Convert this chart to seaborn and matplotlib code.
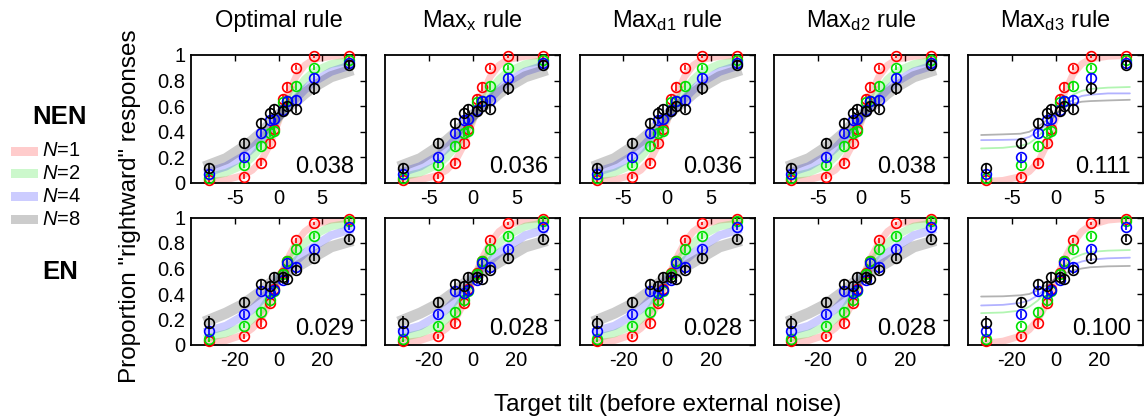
import numpy as np
import pandas as pd
import matplotlib
matplotlib.use('Agg')
import matplotlib.pyplot as plt
import seaborn as sns
from matplotlib.patches import Rectangle

# ---------------- data ----------------
rules = ['Optimal rule', 'Max$_\\mathrm{x}$ rule', 'Max$_\\mathrm{d1}$ rule',
         'Max$_\\mathrm{d2}$ rule', 'Max$_\\mathrm{d3}$ rule']
set_sizes = [1, 2, 4, 8]
conditions = ['NEN', 'EN']
fit_err_nen = ['0.038', '0.036', '0.036', '0.038', '0.111']
fit_err_en = ['0.029', '0.028', '0.028', '0.028', '0.100']

tilt_nen = [-8, -4, -2, -1, -0.5, 0.5, 1, 2, 4, 8]
tilt_en = [-32, -16, -8, -4, -2, 2, 4, 8, 16, 32]

# observed proportion rightward (NEN)
nen_n1 = [0.02, 0.05, 0.16, 0.31, 0.42, 0.66, 0.75, 0.90, 0.99, 0.99]
nen_n2 = [0.04, 0.14, 0.29, 0.39, 0.41, 0.63, 0.64, 0.76, 0.90, 0.96]
nen_n4 = [0.07, 0.20, 0.39, 0.49, 0.50, 0.57, 0.64, 0.65, 0.82, 0.94]
nen_n8 = [0.12, 0.31, 0.47, 0.55, 0.58, 0.56, 0.60, 0.58, 0.74, 0.92]
nen_e1 = [0.01, 0.02, 0.03, 0.03, 0.03, 0.03, 0.03, 0.02, 0.01, 0.01]
nen_e2 = [0.02, 0.02, 0.03, 0.03, 0.03, 0.03, 0.03, 0.03, 0.02, 0.02]
nen_e4 = [0.02, 0.03, 0.03, 0.03, 0.03, 0.03, 0.03, 0.03, 0.03, 0.02]
nen_e8 = [0.04, 0.04, 0.04, 0.04, 0.03, 0.03, 0.03, 0.03, 0.05, 0.03]

# observed proportion rightward (EN)
en_n1 = [0.03, 0.07, 0.175, 0.33, 0.44, 0.565, 0.66, 0.82, 0.955, 0.985]
en_n2 = [0.045, 0.15, 0.26, 0.35, 0.42, 0.56, 0.66, 0.75, 0.855, 0.975]
en_n4 = [0.11, 0.24, 0.42, 0.405, 0.43, 0.51, 0.64, 0.61, 0.75, 0.925]
en_n8 = [0.175, 0.335, 0.48, 0.46, 0.535, 0.535, 0.52, 0.59, 0.685, 0.835]
en_e1 = [0.01, 0.02, 0.03, 0.03, 0.03, 0.03, 0.03, 0.02, 0.01, 0.01]
en_e2 = [0.02, 0.02, 0.03, 0.03, 0.03, 0.03, 0.03, 0.03, 0.02, 0.02]
en_e4 = [0.03, 0.03, 0.03, 0.03, 0.03, 0.03, 0.03, 0.03, 0.03, 0.02]
en_e8 = [0.05, 0.04, 0.03, 0.04, 0.03, 0.03, 0.03, 0.03, 0.03, 0.03]

# model fit curves
curve_x_nen = [-8.5, -6, -4, -3, -2, -1, 0, 1, 2, 3, 4, 6, 8.5]
nen_fit_n1 = [0.01, 0.025, 0.06, 0.10, 0.17, 0.30, 0.48, 0.68, 0.83, 0.92, 0.965, 0.99, 0.997]
nen_fit_n2 = [0.04, 0.08, 0.14, 0.20, 0.28, 0.38, 0.50, 0.62, 0.72, 0.81, 0.87, 0.93, 0.96]
nen_fit_n4 = [0.075, 0.13, 0.21, 0.27, 0.34, 0.42, 0.51, 0.59, 0.66, 0.73, 0.79, 0.87, 0.925]
nen_fit_n8 = [0.125, 0.19, 0.28, 0.33, 0.39, 0.46, 0.53, 0.59, 0.64, 0.70, 0.75, 0.83, 0.885]
nen_d3_n1 = [0.01, 0.02, 0.05, 0.09, 0.16, 0.30, 0.50, 0.70, 0.85, 0.93, 0.97, 0.99, 0.997]
nen_d3_n2 = [0.27, 0.275, 0.29, 0.31, 0.36, 0.44, 0.53, 0.62, 0.69, 0.72, 0.735, 0.745, 0.75]
nen_d3_n4 = [0.335, 0.337, 0.34, 0.36, 0.40, 0.46, 0.53, 0.60, 0.65, 0.68, 0.69, 0.70, 0.70]
nen_d3_n8 = [0.375, 0.38, 0.385, 0.40, 0.44, 0.49, 0.54, 0.59, 0.62, 0.635, 0.64, 0.645, 0.65]

curve_x_en = [-34, -24, -16, -12, -8, -4, 0, 4, 8, 12, 16, 24, 34]
en_fit_n1 = [0.015, 0.035, 0.08, 0.13, 0.20, 0.33, 0.50, 0.67, 0.80, 0.89, 0.94, 0.98, 0.995]
en_fit_n2 = [0.05, 0.09, 0.15, 0.20, 0.27, 0.38, 0.52, 0.63, 0.73, 0.80, 0.86, 0.93, 0.96]
en_fit_n4 = [0.10, 0.15, 0.23, 0.28, 0.35, 0.43, 0.53, 0.60, 0.66, 0.72, 0.77, 0.86, 0.91]
en_fit_n8 = [0.18, 0.25, 0.32, 0.37, 0.42, 0.48, 0.53, 0.57, 0.61, 0.65, 0.69, 0.77, 0.82]
en_d3_n1 = [0.01, 0.03, 0.07, 0.12, 0.20, 0.33, 0.50, 0.67, 0.80, 0.89, 0.94, 0.98, 0.995]
en_d3_n2 = [0.25, 0.255, 0.27, 0.30, 0.35, 0.43, 0.52, 0.62, 0.68, 0.71, 0.73, 0.74, 0.745]
en_d3_n4 = [0.31, 0.315, 0.33, 0.35, 0.39, 0.45, 0.52, 0.59, 0.63, 0.655, 0.67, 0.68, 0.685]
en_d3_n8 = [0.38, 0.382, 0.39, 0.40, 0.43, 0.47, 0.52, 0.56, 0.585, 0.60, 0.61, 0.617, 0.62]

# ---------------- style ----------------
sns.set_theme(style='white')
plt.rcParams['font.family'] = ['Liberation Sans', 'DejaVu Sans']
plt.rcParams['mathtext.fontset'] = 'custom'
plt.rcParams['mathtext.rm'] = 'Liberation Sans'
plt.rcParams['mathtext.it'] = 'Liberation Sans:italic'
plt.rcParams['axes.unicode_minus'] = False
plt.rcParams.update({'text.color': 'black', 'axes.labelcolor': 'black',
                     'xtick.color': 'black', 'ytick.color': 'black',
                     'axes.titlecolor': 'black'})

colors = ['#ff0000', '#00e000', '#0000ff', '#000000']
band_lw = [5.0, 5.5, 6.0, 8.0]

W, H = 1144, 417
fig = plt.figure(figsize=(W / 100, H / 100), dpi=100)

rows = {
    'NEN': dict(tilt=tilt_nen, obs=[nen_n1, nen_n2, nen_n4, nen_n8],
                err=[nen_e1, nen_e2, nen_e4, nen_e8], cx=curve_x_nen,
                fit=[nen_fit_n1, nen_fit_n2, nen_fit_n4, nen_fit_n8],
                d3=[nen_d3_n1, nen_d3_n2, nen_d3_n4, nen_d3_n8],
                xlim=(-10, 10), xticks=[-5, 0, 5], vals=fit_err_nen,
                top=55, bottom=183),
    'EN': dict(tilt=tilt_en, obs=[en_n1, en_n2, en_n4, en_n8],
               err=[en_e1, en_e2, en_e4, en_e8], cx=curve_x_en,
               fit=[en_fit_n1, en_fit_n2, en_fit_n4, en_fit_n8],
               d3=[en_d3_n1, en_d3_n2, en_d3_n4, en_d3_n8],
               xlim=(-40, 40), xticks=[-20, 0, 20], vals=fit_err_en,
               top=217.5, bottom=345),
}

for r, cond in enumerate(conditions):
    d = rows[cond]
    for c in range(5):
        left = 191 + 194.25 * c
        ax = fig.add_axes([left / W, 1 - d['bottom'] / H, 175 / W,
                           (d['bottom'] - d['top']) / H])
        curves = d['d3'] if c == 4 else d['fit']
        for k, n in enumerate(set_sizes):
            cdf = pd.DataFrame({'x': d['cx'], 'y': curves[k]})
            if c == 4 and k > 0:
                sns.lineplot(data=cdf, x='x', y='y', ax=ax, color=colors[k],
                             lw=1.3, alpha=0.3, sort=False)
            else:
                sns.lineplot(data=cdf, x='x', y='y', ax=ax, color=colors[k],
                             lw=band_lw[k], alpha=0.2, sort=False,
                             solid_capstyle='butt')
        for k, n in enumerate(set_sizes):
            ax.errorbar(d['tilt'], d['obs'][k], yerr=d['err'][k], fmt='o',
                        ms=7, mfc='none', mec=colors[k], mew=1.2,
                        ecolor=colors[k], elinewidth=1.2, capsize=0,
                        clip_on=False, zorder=3 + k)
        ax.set_xlim(*d['xlim'])
        ax.set_ylim(0, 1.0)
        ax.set_xticks(d['xticks'])
        ax.set_yticks([0, 0.2, 0.4, 0.6, 0.8, 1.0])
        if c == 0:
            ax.set_yticklabels(['0', '0.2', '0.4', '0.6', '0.8', '1'])
        else:
            ax.set_yticklabels([])
        ax.set_xlabel('')
        ax.set_ylabel('')
        ax.tick_params(direction='in', length=4, width=1, top=True, right=True,
                       labelsize=14.5, pad=4, colors='black')
        for s in ax.spines.values():
            s.set_visible(True)
            s.set_color('black')
            s.set_linewidth(1.3)
        ax.text(0.93, 0.08, d['vals'][c], transform=ax.transAxes, ha='right',
                va='baseline', fontsize=17, color='black')
        if r == 0:
            ax.set_title(rules[c], fontsize=17, pad=20, color='black')

# row labels
fig.text(60 / W, 1 - 117 / H, 'NEN', fontsize=18.5, fontweight='bold',
         ha='center', va='center', color='black')
fig.text(60 / W, 1 - 272 / H, 'EN', fontsize=18.5, fontweight='bold',
         ha='center', va='center', color='black')

# legend
for k, n in enumerate(set_sizes):
    yc = 151 + 22.7 * k
    fig.add_artist(Rectangle((11 / W, 1 - (yc + 4.5) / H), 27 / W, 9 / H,
                             transform=fig.transFigure, facecolor=colors[k],
                             alpha=0.2, edgecolor='none'))
    fig.text(42 / W, 1 - yc / H, '$N$=%d' % n, fontsize=14.5, ha='left',
             va='center', color='black')

fig.text(130 / W, 1 - 206 / H, 'Proportion "rightward" responses',
         rotation=90, fontsize=17.5, ha='center', va='center', color='black')
fig.text(668 / W, 1 - 405 / H, 'Target tilt (before external noise)',
         fontsize=17.5, ha='center', va='center', color='black')

fig.savefig('out.png', dpi=100, facecolor='white')
